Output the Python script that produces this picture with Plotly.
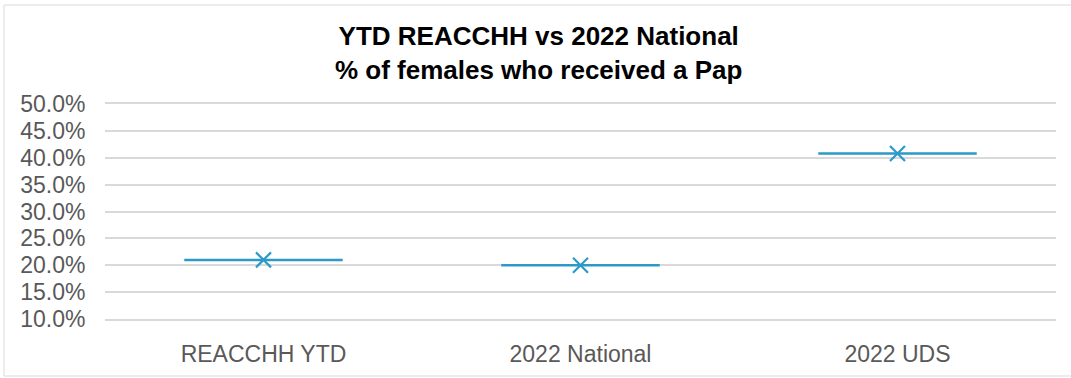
import plotly.graph_objects as go

categories = ["REACCHH YTD", "2022 National", "2022 UDS"]
values = [0.210, 0.200, 0.408]
y_ticks = [0.10, 0.15, 0.20, 0.25, 0.30, 0.35, 0.40, 0.45, 0.50]

W, H = 1071, 378
ml, mr, mt, mb = 105, 15, 104, 59
color = "#2C9AC8"
grid = "#D9D9D9"
font = "Liberation Sans, Arial, sans-serif"

fig = go.Figure()
fig.add_trace(go.Scatter(
    x=list(range(len(categories))),
    y=values,
    mode="markers",
    marker=dict(symbol="x-thin", size=15, line=dict(color=color, width=2.2), color=color),
    error_x=dict(type="constant", value=0.25, width=0, thickness=2.5, color=color),
    hoverinfo="skip",
    showlegend=False,
))

pw = W - ml - mr
ph = H - mt - mb
fig.add_shape(type="rect", xref="paper", yref="paper",
              x0=(4 - ml) / pw, x1=(1080 - ml) / pw,
              y0=(H - mb - 376) / ph, y1=(H - mb - 5) / ph,
              line=dict(color=grid, width=1), fillcolor="rgba(0,0,0,0)", layer="below")

fig.update_layout(
    width=W, height=H,
    margin=dict(l=ml, r=mr, t=mt, b=mb),
    paper_bgcolor="white", plot_bgcolor="white",
    title=dict(
        text="<b>YTD REACCHH vs 2022 National<br>% of females who received a Pap</b>",
        x=0.503, xanchor="center", xref="container",
        y=1 - 45 / H, yanchor="top", yref="container",
        font=dict(family=font, size=26, color="#000000"),
    ),
    xaxis=dict(
        range=[-0.5, len(categories) - 0.5],
        tickvals=list(range(len(categories))),
        ticktext=categories,
        showgrid=False, zeroline=False,
        showline=True, mirror=True, linecolor=grid, linewidth=1.5,
        ticks="outside", ticklen=14, tickcolor="rgba(0,0,0,0)",
        tickfont=dict(family=font, size=23, color="#595959"),
        fixedrange=True,
    ),
    yaxis=dict(
        range=[0.10, 0.50],
        tickvals=y_ticks,
        tickformat=".1%",
        showgrid=True, gridcolor=grid, gridwidth=1.5,
        zeroline=False, showline=False,
        ticks="outside", ticklen=14, tickcolor="rgba(0,0,0,0)",
        tickfont=dict(family=font, size=23, color="#595959"),
        fixedrange=True,
    ),
)

fig.write_html("out.html")
